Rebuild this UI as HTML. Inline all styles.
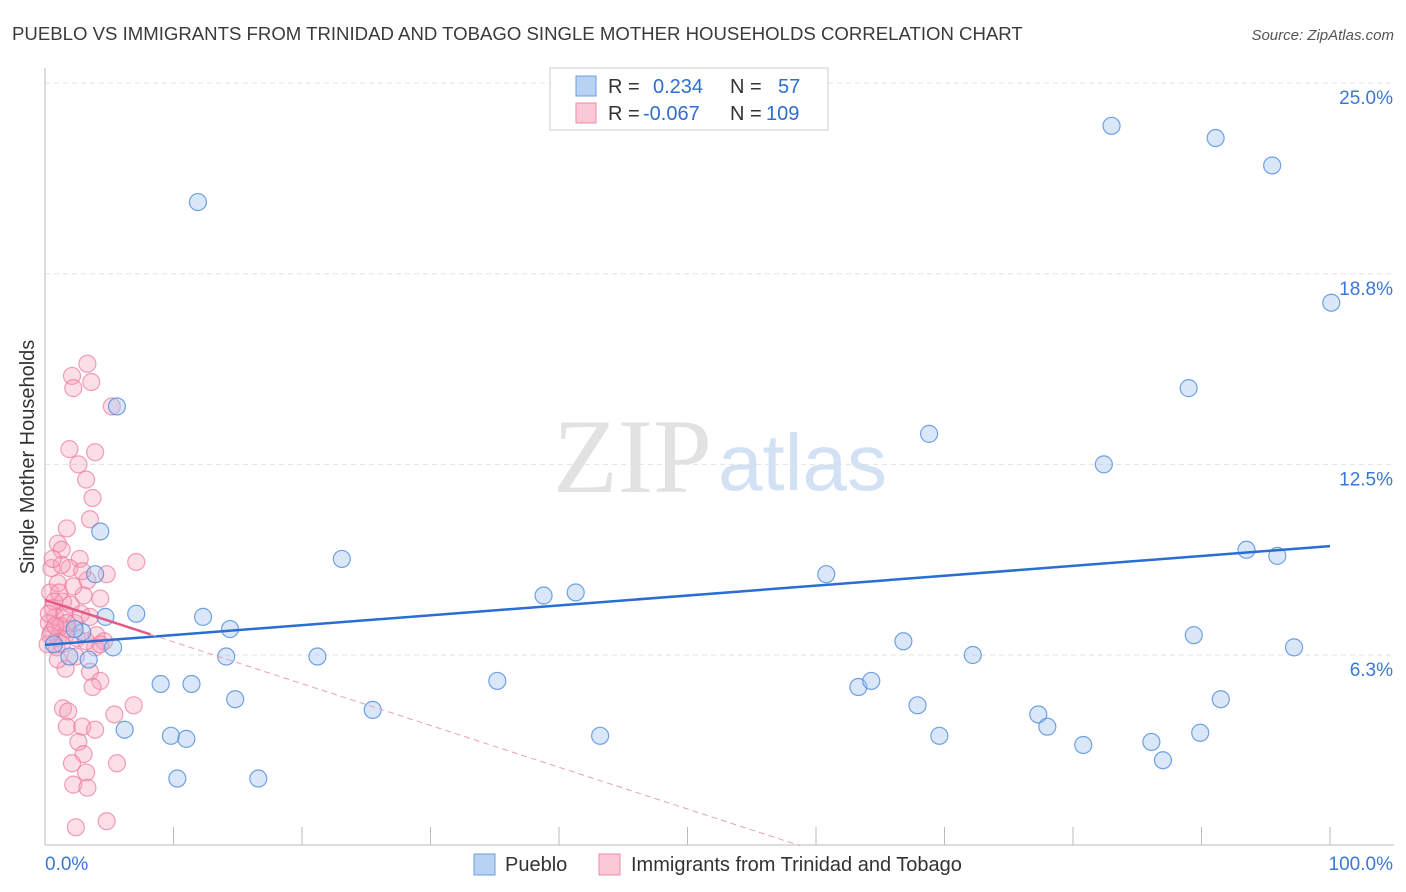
<!DOCTYPE html>
<html><head><meta charset="utf-8"><style>
body{margin:0;background:#fff;font-family:"Liberation Sans",sans-serif;}
svg{display:block}
</style></head><body>
<svg id="chart" width="1406" height="892">
<text x="12" y="40" font-size="18.6" fill="#3a3a3a">PUEBLO VS IMMIGRANTS FROM TRINIDAD AND TOBAGO SINGLE MOTHER HOUSEHOLDS CORRELATION CHART</text>
<text x="1394" y="40" font-size="15" fill="#555" font-style="italic" text-anchor="end">Source: ZipAtlas.com</text>
<text x="553" y="492" font-size="106" font-family="Liberation Serif,serif" fill="#e2e2e2">ZIP</text>
<text x="718" y="490" font-size="80" fill="#d3e1f4">atlas</text>
<text transform="translate(34,457) rotate(-90)" font-size="20" fill="#333" text-anchor="middle">Single Mother Households</text>
<g id="grid"></g><g id="axes"></g><g id="pink"></g><g id="blue"></g><g id="lines"></g>
<g>
<rect x="550" y="68" width="278" height="62" fill="#fff" stroke="#ccc"/>
<rect x="576" y="76" width="20" height="20" fill="#b8d2f4" stroke="#6a9fe0"/>
<rect x="576" y="103" width="20" height="20" fill="#fbc8d6" stroke="#f08aa8"/>
<text y="93" font-size="20" fill="#333"><tspan x="608">R =</tspan><tspan x="653" fill="#2f6fd0">0.234</tspan><tspan x="730">N =</tspan><tspan x="778" fill="#2f6fd0">57</tspan></text>
<text y="120" font-size="20" fill="#333"><tspan x="608">R =</tspan><tspan x="643" fill="#2f6fd0">-0.067</tspan><tspan x="730">N =</tspan><tspan x="766" fill="#2f6fd0">109</tspan></text>
</g>
<g>
<rect x="474" y="854" width="21" height="21" fill="#b8d2f4" stroke="#6a9fe0"/>
<text x="505" y="871" font-size="20" fill="#333">Pueblo</text>
<rect x="599" y="854" width="21" height="21" fill="#fbc8d6" stroke="#f08aa8"/>
<text x="631" y="871" font-size="20" fill="#333">Immigrants from Trinidad and Tobago</text>
</g>
</svg>
<script>
const yTicks=[6.25,12.5,18.75,25];
const yTickLabels=["6.3%","12.5%","18.8%","25.0%"];
const xTickLabels=["0.0%","100.0%"];
const blueX=[11.9,83.0,91.1,95.5,100.1,89.0,68.8,82.4,5.6,4.3,3.9,23.1,60.8,38.8,41.3,93.5,95.9,7.1,4.7,12.3,14.4,2.9,5.3,66.8,89.4,97.2,14.1,21.2,72.2,1.9,3.4,9.0,11.4,35.2,63.3,64.3,14.8,25.5,91.5,67.9,77.3,78.0,6.2,9.8,11.0,43.2,69.6,80.8,86.1,89.9,87.0,10.3,16.6,2.3,0.7];
const blueY=[21.1,23.6,23.2,22.3,17.8,15.0,13.5,12.5,14.4,10.3,8.9,9.4,8.9,8.2,8.3,9.7,9.5,7.6,7.5,7.5,7.1,7.0,6.5,6.7,6.9,6.5,6.2,6.2,6.25,6.2,6.1,5.3,5.3,5.4,5.2,5.4,4.8,4.45,4.8,4.6,4.3,3.9,3.8,3.6,3.5,3.6,3.6,3.3,3.4,3.7,2.8,2.2,2.2,7.1,6.6];
const pinkX=[2.1,3.3,3.6,2.2,5.2,1.9,3.9,2.6,3.2,3.7,3.5,1.7,1.0,1.3,2.7,7.1,4.8,3.3,0.5,4.3,3.0,1.6,3.5,4.3,3.7,1.4,1.8,1.7,2.9,3.9,5.4,6.9,2.6,3.0,2.1,3.2,2.2,3.3,5.6,2.4,4.8,
0.3,0.5,0.8,1.0,1.2,0.6,1.5,0.4,1.0,1.4,2.0,2.3,0.2,0.9,1.6,2.5,1.1,0.7,1.8,0.3,1.3,2.8,3.5,4.0,4.6,1.9,1.3,2.2,0.6,1.7,0.4,0.8,2.9,3.9,4.3,3.2,2.4,1.0];
const pinkY=[15.4,15.8,15.2,15.0,14.4,13.0,12.9,12.5,12.0,11.4,10.7,10.4,9.9,9.7,9.4,9.3,8.9,8.7,9.1,8.1,8.2,5.8,5.7,5.4,5.2,4.5,4.4,3.9,3.9,3.8,4.3,4.6,3.4,3.0,2.7,2.4,2.0,1.9,2.7,0.6,0.8,
7.3,7.0,7.5,6.8,7.2,7.8,7.6,8.3,8.6,8.0,7.9,7.3,6.6,6.5,6.9,6.8,8.3,8.0,7.1,7.6,6.6,7.6,7.5,6.9,6.7,9.1,9.2,8.5,9.4,7.3,6.9,7.2,9.0,6.5,6.6,6.7,6.2,6.1];
const blueFit=[6.58,9.82];
const pinkFit=[8.05,-0.137];
const NS="http://www.w3.org/2000/svg";
const sx=v=>45+v*12.85;
const sy=v=>655-(v-6.25)*30.5;
function mk(tag,attrs,parent){const e=document.createElementNS(NS,tag);for(const k in attrs)e.setAttribute(k,attrs[k]);document.getElementById(parent).appendChild(e);return e;}
yTicks.forEach((t,i)=>{
 const l=mk('line',{x1:45,x2:1394,y1:sy(t),y2:sy(t),stroke:'#e2e2e2','stroke-dasharray':'5,4'},'grid');
 
 
 const tx=mk('text',{x:1393,y:sy(t)+21,'font-size':19,fill:'#3a78d4','text-anchor':'end'},'grid');
 tx.textContent=yTickLabels[i];
 
 
});
const ax=mk('line',{x1:45,x2:45,y1:68,y2:845,stroke:'#bbb'},'axes');


const bx=mk('line',{x1:45,x2:1394,y1:845,y2:845,stroke:'#bbb'},'axes');


for(let i=0;i<=10;i++){const x=sx(i*10);
 const t=mk('line',{x1:x,x2:x,y1:827,y2:845,stroke:'#bbb'},'axes');
 
 }
[[0,'start',45],[1,'end',1393]].forEach(([i,a,x])=>{
 const t=mk('text',{x:x,y:870,'font-size':19,fill:'#3a78d4','text-anchor':a},'axes');
 t.textContent=xTickLabels[i];
 
 });
pinkX.forEach((x,i)=>{
 const c=mk('circle',{cx:sx(x),cy:sy(pinkY[i]),r:8.5,fill:'rgba(245,160,185,0.35)',stroke:'rgba(236,120,155,0.7)','stroke-width':1.2},'pink');
 
 });
blueX.forEach((x,i)=>{
 const c=mk('circle',{cx:sx(x),cy:sy(blueY[i]),r:8.5,fill:'rgba(160,196,240,0.4)',stroke:'rgba(80,140,220,0.8)','stroke-width':1.2},'blue');
 
 });
const bl=mk('line',{x1:sx(0),y1:sy(blueFit[0]),x2:sx(100),y2:sy(blueFit[1]),stroke:'#2a6dd4','stroke-width':2.5},'lines');


const pz=-pinkFit[0]/pinkFit[1];
const pd=mk('line',{x1:sx(8.2),y1:sy(pinkFit[0]+pinkFit[1]*8.2),x2:sx(pz),y2:sy(0),stroke:'#e8a0b6','stroke-width':1,'stroke-dasharray':'6,4'},'lines');


const ps=mk('line',{x1:sx(0),y1:sy(pinkFit[0]),x2:sx(8.2),y2:sy(pinkFit[0]+pinkFit[1]*8.2),stroke:'#e45a86','stroke-width':2.5},'lines');


</script>
</body></html>
